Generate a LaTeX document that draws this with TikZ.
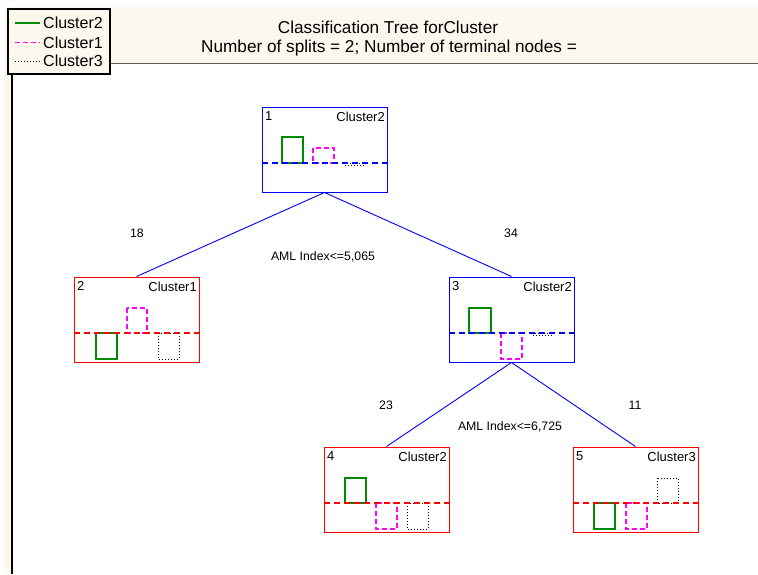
\documentclass[tikz,border=0pt]{standalone}
\usepackage{fontspec}
\setmainfont{Liberation Sans}
\usetikzlibrary{positioning}
\definecolor{cream}{HTML}{FCF8EE}
\definecolor{rulegray}{HTML}{5A5A5A}
\definecolor{leafgreen}{HTML}{008A00}
\definecolor{pink}{HTML}{FF00FF}
\definecolor{splitblue}{HTML}{0000FF}
\definecolor{leafred}{HTML}{FF0000}
\tikzset{splitbox/.style={draw=splitblue,line width=1pt,minimum width=125pt,minimum height=85pt,inner sep=0pt},termbox/.style={splitbox,draw=leafred},idlab/.style={inner sep=0pt,font=\fontsize{13}{15}\selectfont},clslab/.style={idlab},edge/.style={draw=splitblue,line width=.9pt},cntlab/.style={inner sep=0pt,font=\fontsize{12.3}{14}\selectfont},splitlab/.style={cntlab},splitbase/.style={color=splitblue,line width=1.15pt,dash pattern=on 6pt off 4pt},termbase/.style={color=leafred,line width=1.15pt,dash pattern=on 6pt off 4pt},barA/.style={draw=leafgreen,line width=1.1pt},barB/.style={draw=pink,line width=1.1pt,dash pattern=on 5pt off 3pt},barC/.style={draw=black,line width=.9pt,dash pattern=on 1pt off 2pt},legbox/.style={draw=black,fill=cream,line width=1.3pt,minimum width=102pt,minimum height=65pt,inner sep=0pt},legtext/.style={anchor=west,inner sep=0pt,font=\fontsize{16}{18}\selectfont},titletext/.style={inner sep=0pt,font=\fontsize{17.2}{19}\selectfont}}

\begin{document}
\begin{tikzpicture}[x=1pt,y=-1pt]
\useasboundingbox (0,0) rectangle (758,574);
\fill[cream] (4,7) rectangle (758,63.5);
\fill[cream] (4,7) rectangle (12,574);
\draw[rulegray,line width=1.3pt] (110,63.5) -- (758,63.5);
\draw[black,line width=1.5pt] (12,74) -- (12,574);
\node[legbox] (leg) at (59,41.5) {};
\draw[barA] (15,23) -- (40,23);
\draw[barB] (15,42.5) -- (40,42.5);
\draw[barC] (15,61) -- (40,61);
\node[legtext] (lg2) at (43,23) {Cluster2};
\node[legtext] (lg1) at (43,42.5) {Cluster1};
\node[legtext] (lg3) at (43,61) {Cluster3};
\node[titletext] (title) at (388,27) {Classification Tree forCluster};
\node[titletext] (subtitle) at (389,48) {Number of splits = 2; Number of terminal nodes =};

\node[splitbox] (n1) at (324.5,149.5) {};
\node[termbox] (n2) at (136.5,319.5) {};
\node[splitbox] (n3) at (511.5,319.5) {};
\node[termbox] (n4) at (386.5,489.5) {};
\node[termbox] (n5) at (635.5,489.5) {};
\foreach \n/\i/\c in {n1/1/Cluster2,n2/2/Cluster1,n3/3/Cluster2,n4/4/Cluster2,n5/5/Cluster3}{
  \node[idlab,below right=5pt and 3.5pt of \n.north west] (\n-id) {\i};
  \node[clslab,below left=5pt and 2.5pt of \n.north east] (\n-cls) {\c};
}
\draw[edge] (n1.south) -- (n2.north);
\draw[edge] (n1.south) -- (n3.north);
\draw[edge] (n3.south) -- (n4.north);
\draw[edge] (n3.south) -- (n5.north);
\node[cntlab] (c2) at (137,233.5) {18};
\node[cntlab] (c3) at (511,233.5) {34};
\node[splitlab] (s1) at (323,257) {AML Index<=5,065};
\node[cntlab] (c4) at (386,405) {23};
\node[cntlab] (c5) at (635,405) {11};
\node[splitlab] (s3) at (510,427) {AML Index<=6,725};

% node 1
\draw[barA] (282,137) rectangle (303,163);
\draw[barB] (313,148) rectangle (334,163);
\draw[barC] (344,163) rectangle (365,165);
\draw[splitbase] (262,163) -- (387,163);
% node 2
\draw[barB] (127,308) rectangle (147,333);
\draw[barA] (96,333) rectangle (117,359);
\draw[barC] (158,333) rectangle (179,359);
\draw[termbase] (74,333) -- (199,333);
% node 3
\draw[barA] (469,308) rectangle (491,333);
\draw[barB] (501,333) rectangle (522,359);
\draw[barC] (532,333) rectangle (553,335);
\draw[splitbase] (449,333) -- (574,333);
% node 4
\draw[barA] (345,478) rectangle (366,503);
\draw[barB] (376,503) rectangle (397,529);
\draw[barC] (407,503) rectangle (428,529);
\draw[termbase] (324,503) -- (449,503);
% node 5
\draw[barC] (657,478) rectangle (678,503);
\draw[barA] (594,503) rectangle (615,529);
\draw[barB] (626,503) rectangle (647,529);
\draw[termbase] (573,503) -- (698,503);
\end{tikzpicture}
\end{document}
